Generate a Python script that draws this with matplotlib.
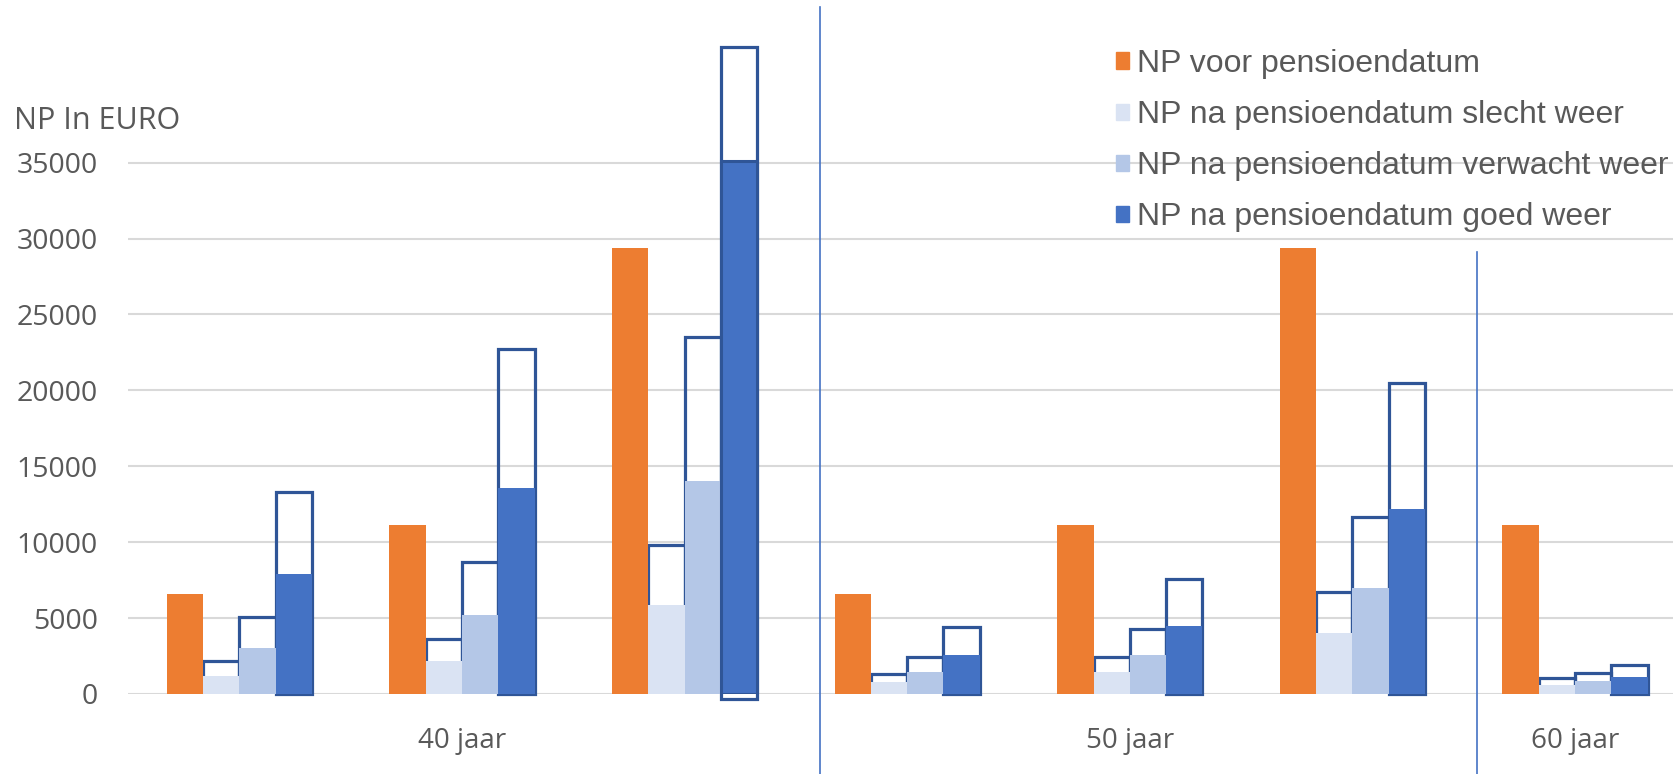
import matplotlib.pyplot as plt
import numpy as np
from matplotlib.patches import Patch

# waarden per groep (3x 40 jaar, 3x 50 jaar, 1x 60 jaar)
voor = [6600, 11150, 29400, 6600, 11150, 29400, 11150]
slecht = [1200, 2150, 5850, 800, 1450, 4000, 600]
verwacht = [3030, 5200, 14050, 1450, 2550, 6950, 850]
goed = [7900, 13600, 35100, 2600, 4500, 12200, 1150]

# open kaders erboven
slecht_max = [2150, 3650, 9800, 1350, 2450, 6750, 1050]
verwacht_max = [5090, 8700, 23500, 2450, 4300, 11650, 1400]
goed_max = [13300, 22750, 42600, 4400, 7600, 20500, 1900]
goed_max_onder = [0, 0, -300, 0, 0, 0, 0]

leeftijden = ['40 jaar', '50 jaar', '60 jaar']
leeftijd_pos = [1, 4, 6]
scheidingen = [2.61, 5.56]
scheiding_top = [45250, 29100]

namen = ['NP voor pensioendatum', 'NP na pensioendatum slecht weer',
         'NP na pensioendatum verwacht weer', 'NP na pensioendatum goed weer']
kleuren = ['#ED7D31', '#DAE3F3', '#B4C7E7', '#4472C4']
rand = '#2F5597'
grijs = '#595959'

fig = plt.figure(figsize=(16.73, 7.74), dpi=100)
ax = fig.add_axes([128 / 1673, 80 / 774, 1 - 128 / 1673, 694 / 774])

x = np.arange(len(voor))
w = 0.163

# kaders achter de gevulde staven
ax.bar(x - 0.5 * w, slecht_max, w, fill=False, edgecolor=rand, linewidth=2.3, zorder=2)
ax.bar(x + 0.5 * w, verwacht_max, w, fill=False, edgecolor=rand, linewidth=2.3, zorder=2)
ax.bar(x + 1.5 * w, np.array(goed_max) - np.array(goed_max_onder), w,
       bottom=goed_max_onder, fill=False, edgecolor=rand, linewidth=2.3,
       zorder=2, clip_on=False)

ax.bar(x - 1.5 * w, voor, w, color=kleuren[0], zorder=3)
ax.bar(x - 0.5 * w, slecht, w, color=kleuren[1], zorder=3)
ax.bar(x + 0.5 * w, verwacht, w, color=kleuren[2], zorder=3)
staven = ax.bar(x + 1.5 * w, goed, w, color=kleuren[3], zorder=3)
staven[2].set_edgecolor(rand)
staven[2].set_linewidth(2.2)

for xs, top in zip(scheidingen, scheiding_top):
    ax.plot([xs, xs], [-5300, top], color='#4472C4', lw=1.2, clip_on=False, zorder=4)

ax.set_xlim(-0.5, 6.44)
ax.set_ylim(0, 45718)
ax.yaxis.grid(True, color='#D9D9D9', lw=1.5)
ax.set_axisbelow(True)
for s in ax.spines.values():
    s.set_visible(False)

ax.set_yticks(np.arange(0, 35001, 5000))
ax.set_yticklabels([str(v) for v in range(0, 35001, 5000)], family='Open Sans')
ax.tick_params(axis='y', length=0, pad=21.6, labelsize=20.5, labelcolor=grijs)
ax.set_xticks(leeftijd_pos)
ax.set_xticklabels(leeftijden, family='Open Sans')
ax.tick_params(axis='x', length=0, pad=23.5, labelsize=20, labelcolor=grijs)

fig.text(14 / 1673, 1 - 120.6 / 774, 'NP In EURO', family='Open Sans', fontsize=22,
         color=grijs, va='center', ha='left')

handles = [Patch(color=c) for c in kleuren]
fig.legend(handles, namen, loc='upper left', bbox_to_anchor=(1116 / 1673, 1 - 49 / 774),
           frameon=False, prop={'family': 'Liberation Sans', 'size': 23},
           handlelength=0.41, handleheight=0.41, handletextpad=0.24, labelspacing=0.66,
           borderpad=0, borderaxespad=0, labelcolor=grijs)

fig.savefig('out.png', dpi=100)
